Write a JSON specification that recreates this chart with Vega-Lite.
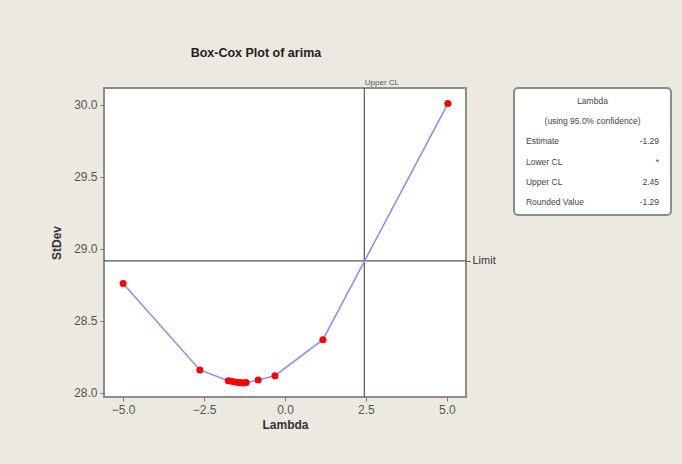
{
  "$schema": "https://vega.github.io/schema/vega-lite/v6.json",
  "background": "#ECE9E1",
  "padding": {"left": 49, "top": 46, "right": 10, "bottom": 33},
  "title": {"text": "Box-Cox Plot of arima", "anchor": "start", "dx": 141, "font": "Liberation Sans", "fontSize": 12.5, "fontWeight": "bold", "color": "#222222", "offset": 18},
  "bounds": "flush",
  "spacing": 48,
  "datasets": {
    "curve": [
      {"lambda": -5.0, "stdev": 28.76},
      {"lambda": -2.63, "stdev": 28.16},
      {"lambda": -1.75, "stdev": 28.085},
      {"lambda": -1.62, "stdev": 28.08},
      {"lambda": -1.5, "stdev": 28.075},
      {"lambda": -1.4, "stdev": 28.072},
      {"lambda": -1.29, "stdev": 28.07},
      {"lambda": -1.2, "stdev": 28.073},
      {"lambda": -0.83, "stdev": 28.09},
      {"lambda": -0.31, "stdev": 28.12},
      {"lambda": 1.17, "stdev": 28.37},
      {"lambda": 5.03, "stdev": 30.01}
    ],
    "upper": [{"lambda": 2.45}],
    "limit": [{"stdev": 28.917}],
    "table": [
      {"row": 1, "col": "center", "text": "Lambda"},
      {"row": 2, "col": "center", "text": "(using 95.0% confidence)"},
      {"row": 3, "col": "label", "text": "Estimate"},
      {"row": 3, "col": "value", "text": "-1.29"},
      {"row": 4, "col": "label", "text": "Lower CL"},
      {"row": 4, "col": "value", "text": "*"},
      {"row": 5, "col": "label", "text": "Upper CL"},
      {"row": 5, "col": "value", "text": "2.45"},
      {"row": 6, "col": "label", "text": "Rounded Value"},
      {"row": 6, "col": "value", "text": "-1.29"}
    ]
  },
  "hconcat": [
    {
      "width": 362,
      "height": 309,
      "view": {"fill": "white", "stroke": "#8c8c8c", "strokeWidth": 2},
      "layer": [
        {
          "data": {"name": "upper"},
          "mark": {"type": "rule", "color": "#555555", "strokeWidth": 1.2},
          "encoding": {
            "x": {"field": "lambda", "type": "quantitative",
              "scale": {"domain": [-5.59, 5.59], "nice": false, "zero": false},
              "axis": {"orient": "top", "values": [2.45], "labelExpr": "'Upper CL'", "title": null, "ticks": false, "domain": false, "grid": false, "labelAlign": "left", "labelFontSize": 8, "labelFont": "Liberation Sans", "labelColor": "#555555", "labelPadding": 2}}
          }
        },
        {
          "data": {"name": "limit"},
          "mark": {"type": "rule", "color": "#555555", "strokeWidth": 1.2},
          "encoding": {
            "y": {"field": "stdev", "type": "quantitative",
              "scale": {"domain": [27.972, 30.118], "nice": false, "zero": false},
              "axis": {"orient": "right", "values": [28.917], "labelExpr": "'Limit'", "title": null, "ticks": true, "tickSize": 4, "tickColor": "#555555", "domain": false, "grid": false, "labelFontSize": 11, "labelFont": "Liberation Sans", "labelColor": "#333333", "labelPadding": 2}}
          }
        },
        {
          "data": {"name": "curve"},
          "mark": {"type": "line", "color": "#8f8ff2", "strokeWidth": 1.6},
          "encoding": {
            "x": {"field": "lambda", "type": "quantitative",
              "scale": {"domain": [-5.59, 5.59], "nice": false, "zero": false},
              "axis": {"orient": "bottom", "values": [-5, -2.5, 0, 2.5, 5], "format": ".1f", "title": "Lambda", "grid": false, "domain": false, "tickColor": "#777777", "tickSize": 4, "labelFont": "Liberation Sans", "labelFontSize": 12, "labelColor": "#555555", "labelPadding": 3, "titleFont": "Liberation Sans", "titleFontSize": 12, "titleFontWeight": "bold", "titleColor": "#333333", "titlePadding": 4}},
            "y": {"field": "stdev", "type": "quantitative",
              "scale": {"domain": [27.972, 30.118], "nice": false, "zero": false},
              "axis": {"orient": "left", "values": [28, 28.5, 29, 29.5, 30], "format": ".1f", "title": "StDev", "grid": false, "domain": false, "tickColor": "#777777", "tickSize": 4, "labelFont": "Liberation Sans", "labelFontSize": 12, "labelColor": "#555555", "labelPadding": 3, "titleFont": "Liberation Sans", "titleFontSize": 12, "titleFontWeight": "bold", "titleColor": "#333333", "titlePadding": 10}}
          }
        },
        {
          "data": {"name": "curve"},
          "mark": {"type": "point", "filled": true, "color": "#ff0000", "size": 50, "opacity": 1},
          "encoding": {
            "x": {"field": "lambda", "type": "quantitative", "scale": {"domain": [-5.59, 5.59], "nice": false, "zero": false}, "axis": null},
            "y": {"field": "stdev", "type": "quantitative", "scale": {"domain": [27.972, 30.118], "nice": false, "zero": false}, "axis": null}
          }
        }
      ],
      "resolve": {"axis": {"x": "independent", "y": "independent"}}
    },
    {
      "width": 157,
      "height": 127,
      "view": {"fill": "white", "stroke": "#8c8c8c", "strokeWidth": 2, "cornerRadius": 4},
      "data": {"name": "table"},
      "encoding": {
        "y": {"field": "row", "type": "ordinal", "scale": {"type": "point", "padding": 0.64}, "axis": null},
        "x": {"field": "col", "type": "nominal", "scale": {"type": "point", "domain": ["label", "center", "value"], "padding": 0.18}, "axis": null},
        "text": {"field": "text", "type": "nominal"}
      },
      "layer": [
        {"transform": [{"filter": "datum.col === 'center'"}], "mark": {"type": "text", "align": "center", "font": "Liberation Sans", "fontSize": 8.5, "color": "#444444"}},
        {"transform": [{"filter": "datum.col === 'label'"}], "mark": {"type": "text", "align": "left", "font": "Liberation Sans", "fontSize": 8.5, "color": "#444444"}},
        {"transform": [{"filter": "datum.col === 'value'"}], "mark": {"type": "text", "align": "right", "font": "Liberation Sans", "fontSize": 8.5, "color": "#444444"}}
      ]
    }
  ]
}
